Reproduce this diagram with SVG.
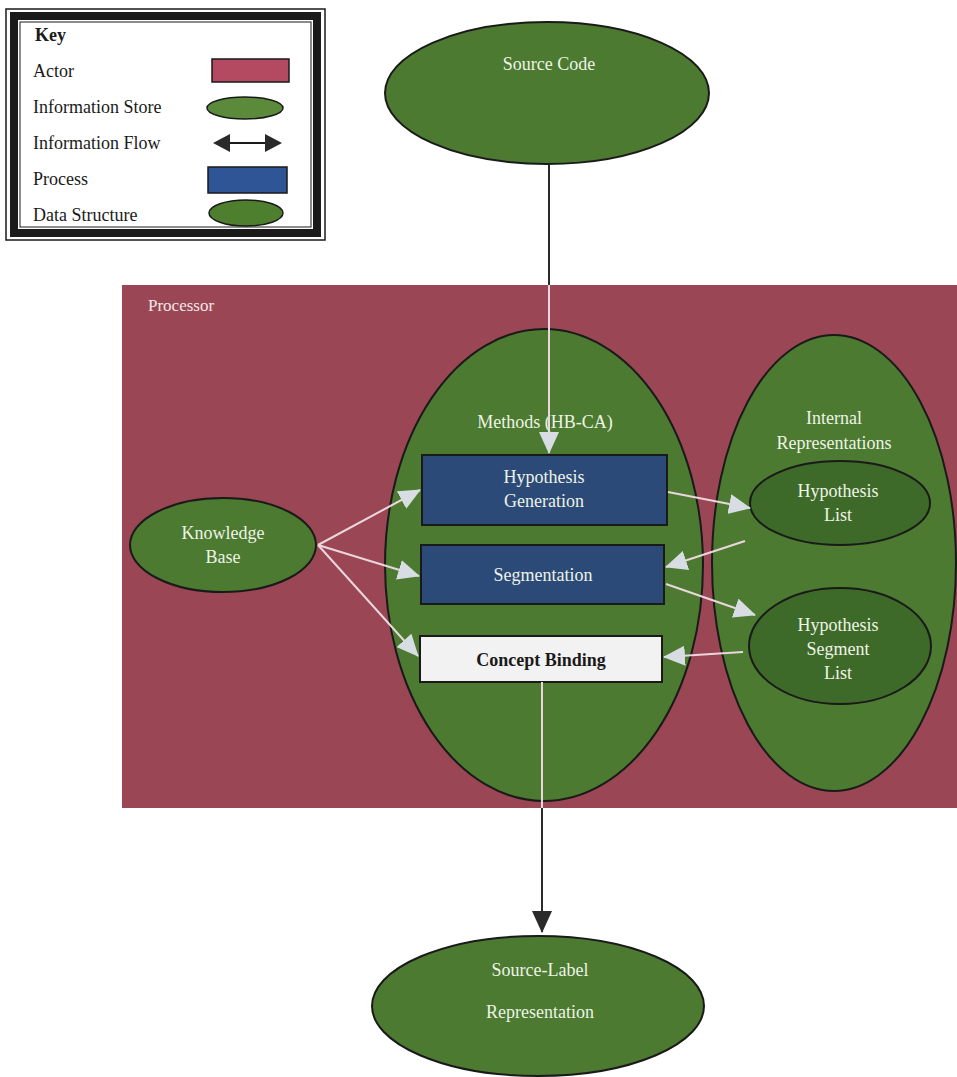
<svg xmlns="http://www.w3.org/2000/svg" width="957" height="1077" viewBox="0 0 957 1077">
<style>
text{font-family:"Liberation Serif","Times New Roman",serif;}
.k{font-size:18px;fill:#1a1a1a;}
.w{font-size:18px;fill:#eef3e6;text-anchor:middle;}
.g{fill:#4b7a30;stroke:#1a1a1a;stroke-width:2;}
.gd{fill:#3e6a29;stroke:#1a1a1a;stroke-width:2;}
.b{fill:#2c4a78;stroke:#1a1a1a;stroke-width:2;}
.la{stroke:#ead7dd;stroke-width:2;fill:none;}
</style>
<defs>
<marker id="lhb" markerWidth="22" markerHeight="20" refX="21" refY="10" orient="auto" markerUnits="userSpaceOnUse" viewBox="0 0 22 20">
<path d="M0,0 L22,10 L0,20 z" fill="#d8dde4"/>
</marker>
<marker id="bh" markerWidth="22" markerHeight="20" refX="21" refY="10" orient="auto" markerUnits="userSpaceOnUse" viewBox="0 0 22 20">
<path d="M0,0 L22,10 L0,20 z" fill="#2a2a2a"/>
</marker>
</defs>
<rect width="957" height="1077" fill="#ffffff"/>

<g id="key">
<rect x="6" y="9" width="319" height="231" fill="#ffffff" stroke="#1a1a1a" stroke-width="1.5"/>
<rect x="14" y="16" width="303" height="217" fill="none" stroke="#1a1a1a" stroke-width="8"/>
<rect x="20" y="22" width="291" height="205" fill="none" stroke="#1a1a1a" stroke-width="1"/>
<text class="k" x="35" y="41" font-weight="bold">Key</text>
<text class="k" x="33" y="77">Actor</text>
<text class="k" x="33" y="113">Information Store</text>
<text class="k" x="33" y="149">Information Flow</text>
<text class="k" x="33" y="185">Process</text>
<text class="k" x="33" y="221">Data Structure</text>
<rect x="212" y="59" width="77" height="23" fill="#b34a62" stroke="#1a1a1a" stroke-width="1.5"/>
<ellipse cx="245" cy="108" rx="38" ry="11" fill="#5a8a3a" stroke="#1a1a1a" stroke-width="1.5"/>
<line x1="226" y1="143" x2="268" y2="143" stroke="#1a1a1a" stroke-width="2"/>
<path d="M213,143 L230,134 L230,152 z M282,143 L265,134 L265,152 z" fill="#2a2a2a"/>
<rect x="208" y="167" width="79" height="26" fill="#2f5596" stroke="#1a1a1a" stroke-width="1.5"/>
<ellipse cx="246" cy="213" rx="37" ry="13" fill="#4e7f2e" stroke="#1a1a1a" stroke-width="1.5"/>
</g>

<g id="processor">
<rect x="122" y="285" width="835" height="523" fill="#9b4655"/>
<text x="148" y="311" font-size="17" fill="#f0e6e8">Processor</text>
</g>

<g id="source-code">
<ellipse class="g" cx="547" cy="93" rx="162" ry="71"/>
<text class="w" x="549" y="70">Source Code</text>
</g>

<g id="methods">
<ellipse class="g" cx="544" cy="565" rx="159" ry="236"/>
<text class="w" x="545" y="428" font-size="17" fill="#e6ecdc">Methods (HB-CA)</text>
</g>

<g id="internal">
<ellipse class="g" cx="834" cy="563" rx="122" ry="228"/>
<text class="w" x="834" y="424" font-size="17">Internal</text>
<text class="w" x="834" y="449" font-size="17">Representations</text>
</g>

<g id="knowledge-base">
<ellipse class="g" cx="223" cy="545" rx="93" ry="47"/>
<text class="w" x="223" y="539">Knowledge</text>
<text class="w" x="223" y="563">Base</text>
</g>

<g id="hyp-gen">
<rect class="b" x="422" y="455" width="245" height="70"/>
<text class="w" x="544" y="483">Hypothesis</text>
<text class="w" x="544" y="507">Generation</text>
</g>

<g id="segmentation">
<rect class="b" x="421" y="545" width="243" height="59"/>
<text class="w" x="543" y="581">Segmentation</text>
</g>

<g id="concept-binding">
<rect x="420" y="636" width="242" height="46" fill="#f2f2f2" stroke="#1a1a1a" stroke-width="2"/>
<text x="541" y="666" font-size="18" font-weight="bold" fill="#1a1a1a" text-anchor="middle">Concept Binding</text>
</g>

<g id="hyp-list">
<ellipse class="gd" cx="840" cy="503" rx="90" ry="42"/>
<text class="w" x="838" y="497">Hypothesis</text>
<text class="w" x="838" y="521">List</text>
</g>

<g id="hyp-seg-list">
<ellipse class="gd" cx="840" cy="646" rx="91" ry="58"/>
<text class="w" x="838" y="631">Hypothesis</text>
<text class="w" x="838" y="655">Segment</text>
<text class="w" x="838" y="679">List</text>
</g>

<g id="source-label">
<ellipse class="g" cx="538" cy="1006" rx="166" ry="70"/>
<text class="w" x="540" y="976">Source-Label</text>
<text class="w" x="540" y="1018">Representation</text>
</g>

<g id="connectors">
<line x1="549" y1="165" x2="549" y2="285" stroke="#2a2a2a" stroke-width="2"/>
<line x1="549" y1="285" x2="549" y2="453" stroke="#ead7dd" stroke-width="2" marker-end="url(#lhb)"/>
<line class="la" x1="318" y1="545" x2="420" y2="490" marker-end="url(#lhb)"/>
<line class="la" x1="318" y1="545" x2="419" y2="576" marker-end="url(#lhb)"/>
<line class="la" x1="318" y1="545" x2="418" y2="656" marker-end="url(#lhb)"/>
<line class="la" x1="668" y1="492" x2="750" y2="508" marker-end="url(#lhb)"/>
<line class="la" x1="745" y1="541" x2="666" y2="567" marker-end="url(#lhb)"/>
<line class="la" x1="666" y1="584" x2="755" y2="615" marker-end="url(#lhb)"/>
<line class="la" x1="743" y1="652" x2="664" y2="657" marker-end="url(#lhb)"/>
<line x1="542" y1="682" x2="542" y2="808" stroke="#ead7dd" stroke-width="2"/>
<line x1="542" y1="808" x2="542" y2="932" stroke="#2a2a2a" stroke-width="2" marker-end="url(#bh)"/>
</g>
</svg>
